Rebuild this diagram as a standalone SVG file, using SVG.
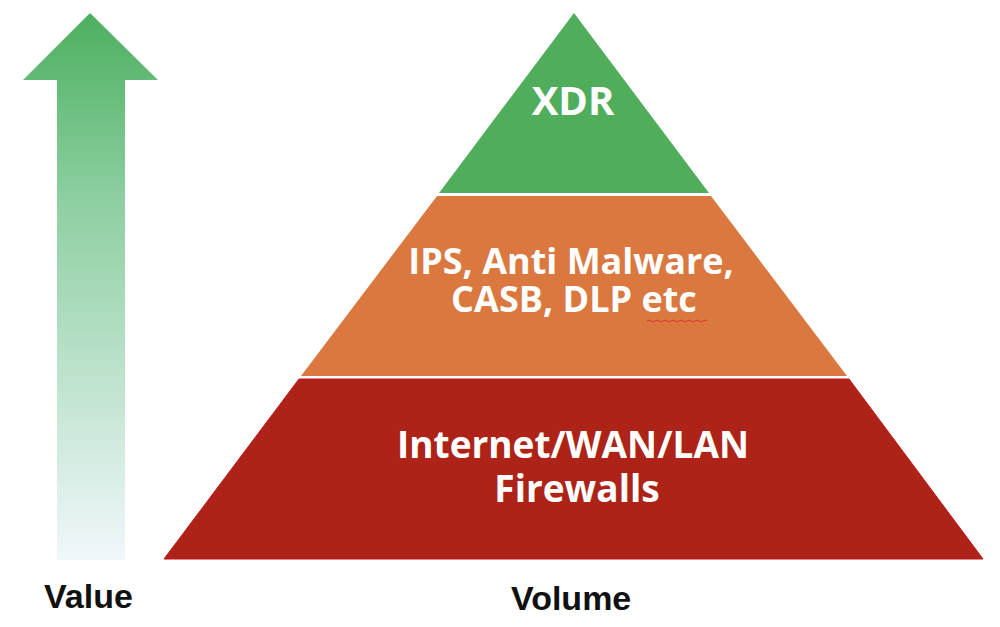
<svg xmlns="http://www.w3.org/2000/svg" width="1000" height="627" viewBox="0 0 1000 627">
<defs>
<linearGradient id="arrowGrad" x1="0" y1="0" x2="0" y2="1">
<stop offset="0" stop-color="#4caf5f"/>
<stop offset="0.35" stop-color="#8fd0a3"/>
<stop offset="1" stop-color="#f0f7fb"/>
</linearGradient>
<style>
.layer-text{font-family:"Open Sans","Liberation Sans",sans-serif;font-weight:700;fill:#ffffff;text-anchor:middle;font-size:36px}
.axis-label{font-family:"Liberation Sans",Arial,sans-serif;font-weight:700;fill:#111111;font-size:34px}
</style>
</defs>
<g id="value-arrow">
<polygon points="90,13 158,80 125,80 125,560 57,560 57,80 23,80" fill="url(#arrowGrad)"/>
</g>
<g id="layer-xdr">
<polygon points="574,13 709,193 439,193" fill="#50ad5c"/>
<text class="layer-text" x="573" y="115" style="font-size:40px">XDR</text>
</g>
<g id="layer-ips">
<polygon points="437,196 711,196 847,376 301,376" fill="#da7840"/>
<text class="layer-text" x="571" y="274">IPS, Anti Malware,</text>
<text class="layer-text" x="574" y="312">CASB, DLP etc</text>
<path d="M647,321 q2,-2 4,0 t4,0 t4,0 t4,0 t4,0 t4,0 t4,0 t4,0 t4,0 t4,0 t4,0 t4,0 t4,0 t4,0 t4,0" fill="none" stroke="#e0302a" stroke-width="1"/>
</g>
<g id="layer-firewalls">
<polygon points="299,379 849,379 983,559 164,559" fill="#ad2318" stroke="#c0141a" stroke-width="1"/>
<text class="layer-text" x="573" y="458" style="font-size:37px">Internet/WAN/LAN</text>
<text class="layer-text" x="577" y="502" style="font-size:37px">Firewalls</text>
</g>
<g id="labels">
<text class="axis-label" x="44" y="608">Value</text>
<text class="axis-label" x="511" y="610">Volume</text>
</g>
<g id="connectors"/>
</svg>
